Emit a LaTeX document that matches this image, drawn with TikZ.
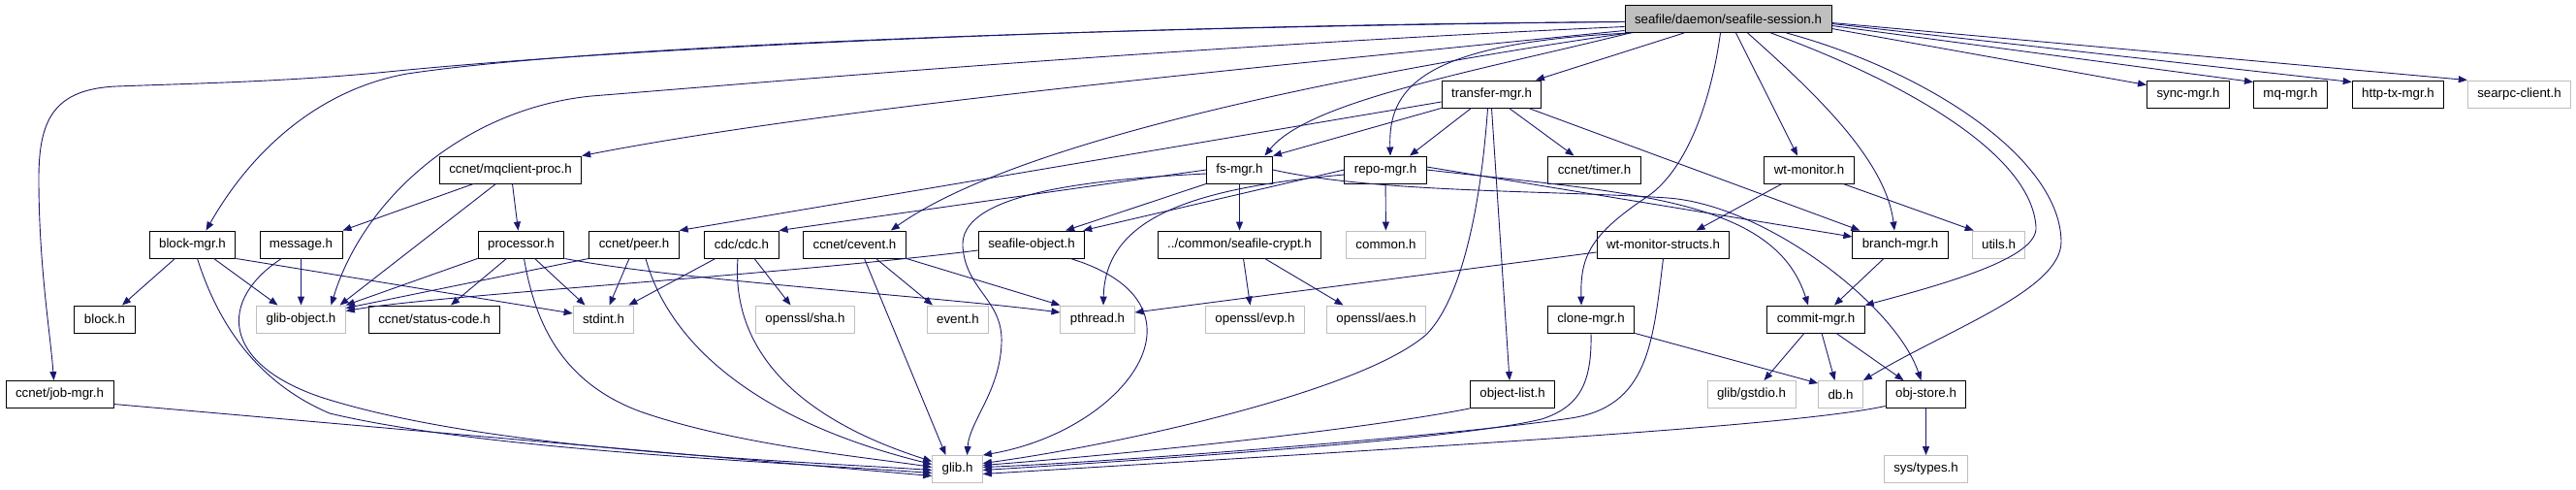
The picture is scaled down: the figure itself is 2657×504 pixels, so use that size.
\documentclass[tikz,border=0pt]{standalone}
\usepackage{fontspec}
\setmainfont{Liberation Sans}
\usepackage{xcolor}
\usepackage{tikz}
\usetikzlibrary{arrows.meta}

\definecolor{edgeblue}{HTML}{191970}
\definecolor{extgray}{HTML}{BFBFBF}

\begin{document}
\begin{tikzpicture}[
  x=1pt, y=1pt,
  file/.style={rectangle, draw=black, fill=white, line width=0.9pt, minimum height=28pt, inner xsep=10pt, inner ysep=0pt, font=\fontsize{13.3}{16}\selectfont},
  extfile/.style={file, draw=extgray},
  rootfile/.style={file, fill=extgray},
  arrow/.style={-{Triangle[length=9pt,width=7pt]}, draw=edgeblue, line width=0.9pt}
]
\useasboundingbox (0,0) rectangle (2657,504);

\node[rootfile] (root) at (1782.5,484.5) {seafile/daemon/seafile-session.h};

\node[file] (transfer) at (1538.5,407) {transfer-mgr.h};
\node[file] (syncmgr) at (2257,407) {sync-mgr.h};
\node[file] (mqmgr) at (2362.5,407) {mq-mgr.h};
\node[file] (httptx) at (2473.5,407) {http-tx-mgr.h};
\node[extfile] (searpc) at (2598.5,407) {searpc-client.h};

\node[file] (mqclient) at (526.5,329) {ccnet/mqclient-proc.h};
\node[file] (fsmgr) at (1278.5,329) {fs-mgr.h};
\node[file] (repomgr) at (1429,329) {repo-mgr.h};
\node[file] (timer) at (1644.5,329) {ccnet/timer.h};
\node[file] (wtmon) at (1866,329) {wt-monitor.h};

\node[file] (blockmgr) at (198.5,252) {block-mgr.h};
\node[file] (message) at (310.5,252) {message.h};
\node[file] (processor) at (537.5,252) {processor.h};
\node[file] (peer) at (654,252) {ccnet/peer.h};
\node[file] (cdc) at (765,252) {cdc/cdc.h};
\node[file] (cevent) at (881.5,252) {ccnet/cevent.h};
\node[file] (seafobj) at (1064,252) {seafile-object.h};
\node[file] (crypt) at (1278.5,252) {../common/seafile-crypt.h};
\node[extfile] (common) at (1429.5,252) {common.h};
\node[file] (wtstructs) at (1715.5,252) {wt-monitor-structs.h};
\node[file] (branch) at (1960,252) {branch-mgr.h};
\node[extfile] (utils) at (2061.5,252) {utils.h};

\node[file] (blockh) at (108,175) {block.h};
\node[extfile] (globj) at (310.5,175) {glib-object.h};
\node[file] (status) at (448,175) {ccnet/status-code.h};
\node[extfile] (stdint) at (622.5,175) {stdint.h};
\node[extfile] (sha) at (830.5,175) {openssl/sha.h};
\node[extfile] (event) at (988,175) {event.h};
\node[extfile] (pthread) at (1132,175) {pthread.h};
\node[extfile] (evp) at (1294.5,175) {openssl/evp.h};
\node[extfile] (aes) at (1419.5,175) {openssl/aes.h};
\node[file] (clonemgr) at (1641,175) {clone-mgr.h};
\node[file] (commit) at (1873,175) {commit-mgr.h};

\node[file] (jobmgr) at (61.5,97.5) {ccnet/job-mgr.h};
\node[file] (objlist) at (1560,97.5) {object-list.h};
\node[extfile] (gstdio) at (1806.5,97.5) {glib/gstdio.h};
\node[extfile] (db) at (1898.5,97.5) {db.h};
\node[file] (objstore) at (1986.5,97.5) {obj-store.h};

\node[extfile] (glib) at (987.5,20.5) {glib.h};
\node[extfile] (systypes) at (1986.5,20.5) {sys/types.h};

\draw[arrow] ([yshift=-3pt]root.west) .. controls (1150,478) and (650,455) .. (400,430) .. controls (300,420) and (200,418) .. (120,415) .. controls (55,412) and (40,380) .. (40,320) .. controls (40,230) and (52,160) .. ([xshift=-6pt]jobmgr.north);
\draw[arrow] ([yshift=-3pt]root.west) .. controls (1150,476) and (620,458) .. (420,428) .. controls (330,412) and (260,350) .. ([xshift=14pt]blockmgr.north);
\draw[arrow] ([yshift=-8pt]root.west) .. controls (1200,455) and (800,420) .. (610,405) .. controls (480,392) and (375,300) .. ([xshift=31pt]globj.north);
\draw[arrow] ([yshift=-12pt]root.west) .. controls (1250,430) and (850,392) .. (mqclient.north east);
\draw[arrow] ([xshift=4pt]root.south west) .. controls (1400,430) and (1050,360) .. ([xshift=-16pt]cevent.north east);
\draw[arrow] ([xshift=6pt]root.south west) .. controls (1520,430) and (1350,400) .. ([xshift=26pt]fsmgr.north);
\draw[arrow] ([xshift=8pt]root.south west) .. controls (1460,460) and (1432,410) .. ([xshift=5pt]repomgr.north);
\draw[arrow] (root) -- (transfer);
\draw[arrow] ([xshift=-8pt]root.south) .. controls (1765,400) and (1740,330) .. (1700,302) .. controls (1640,262) and (1630,240) .. ([xshift=-10pt]clonemgr.north);
\draw[arrow] ([xshift=8pt]root.south) -- ([xshift=-12pt]wtmon.north);
\draw[arrow] ([xshift=20pt]root.south) .. controls (1870,410) and (1945,340) .. ([xshift=-6pt]branch.north);
\draw[arrow] ([xshift=44pt]root.south) .. controls (1950,425) and (2095,350) .. (2100,270) .. controls (2102,240) and (2020,215) .. (commit.north east);
\draw[arrow] ([xshift=60pt]root.south) .. controls (1990,430) and (2125,340) .. (2126,255) .. controls (2126,205) and (2010,165) .. (db.north east);
\draw[arrow] ([yshift=-10pt]root.east) -- ([yshift=-5pt]syncmgr.north west);
\draw[arrow] ([yshift=-7pt]root.east) -- ([yshift=-2pt]mqmgr.north west);
\draw[arrow] ([yshift=-5pt]root.east) -- ([yshift=-2pt]httptx.north west);
\draw[arrow] ([yshift=-4pt]root.east) -- (searpc.north west);

\draw[arrow] (transfer.south west) -- (fsmgr.north east);
\draw[arrow] ([xshift=-21pt]transfer.south) -- ([xshift=25pt]repomgr.north);
\draw[arrow] ([xshift=18pt]transfer.south) -- ([xshift=-21pt]timer.north);
\draw[arrow] (transfer.south) -- ([xshift=-3pt]objlist.north);
\draw[arrow] ([xshift=-4pt]transfer.south) .. controls (1528,300) and (1510,200) .. (1472,160) .. controls (1405,100) and (1150,45) .. ([yshift=6pt]glib.east);
\draw[arrow] ([yshift=-8pt]transfer.west) -- (peer.north east);
\draw[arrow] ([xshift=38pt]transfer.south) -- ([xshift=8pt]branch.north west);

\draw[arrow] (fsmgr.west) -- (cdc.north east);
\draw[arrow] ([yshift=-4pt]fsmgr.west) .. controls (1100,318) and (990,300) .. (993,250) .. controls (996,205) and (1035,195) .. (1033,150) .. controls (1031,100) and (1000,70) .. ([xshift=10pt]glib.north);
\draw[arrow] (fsmgr.south west) -- ([xshift=-20pt]seafobj.north east);
\draw[arrow] (fsmgr) -- (crypt);
\draw[arrow] (fsmgr.east) .. controls (1420,305) and (1600,308) .. (1720,300) .. controls (1820,293) and (1955,190) .. ([xshift=-5pt]objstore.north);

\draw[arrow] (repomgr.west) -- ([xshift=-2pt]seafobj.north east);
\draw[arrow] ([yshift=-5pt]repomgr.west) .. controls (1230,310) and (1140,280) .. ([xshift=6pt]pthread.north);
\draw[arrow] (repomgr) -- (common);
\draw[arrow] ([yshift=3pt]repomgr.east) -- ([yshift=8pt]branch.west);
\draw[arrow] (repomgr.east) .. controls (1680,305) and (1830,300) .. ([xshift=-8pt]commit.north);

\draw[arrow] ([xshift=-28pt]wtmon.south) -- ([xshift=34pt]wtstructs.north);
\draw[arrow] ([xshift=35pt]wtmon.south) -- ([xshift=2pt]utils.north west);

\draw[arrow] ([xshift=-18pt]blockmgr.south) -- ([xshift=18pt]blockh.north);
\draw[arrow] ([xshift=22pt]blockmgr.south) -- ([xshift=-24pt]globj.north);
\draw[arrow] (blockmgr.south east) -- ([yshift=6pt]stdint.west);
\draw[arrow] ([xshift=5pt]blockmgr.south) .. controls (225,170) and (265,110) .. (340,78) .. controls (500,40) and (800,28) .. ([yshift=-4pt]glib.west);

\draw[arrow] (message) -- (globj);
\draw[arrow] ([xshift=-20pt]message.south) .. controls (225,195) and (228,130) .. (330,95) .. controls (500,40) and (800,30) .. ([yshift=-1pt]glib.west);

\draw[arrow] ([xshift=-38pt]mqclient.south) -- (message.north east);
\draw[arrow] ([xshift=2pt]mqclient.south) -- ([xshift=-3pt]processor.north);
\draw[arrow] ([xshift=-15pt]mqclient.south) -- ([xshift=40pt]globj.north);

\draw[arrow] (processor.south west) -- (globj.north east);
\draw[arrow] ([xshift=-15pt]processor.south) -- ([xshift=17pt]status.north);
\draw[arrow] ([xshift=14pt]processor.south) -- ([xshift=-19pt]stdint.north);
\draw[arrow] ([xshift=3pt]processor.south) .. controls (552,170) and (580,110) .. (660,80) .. controls (760,45) and (900,32) .. ([yshift=2pt]glib.west);
\draw[arrow] (processor.south east) .. controls (700,215) and (950,200) .. ([yshift=7pt]pthread.west);

\draw[arrow] (peer.south west) -- ([yshift=-3pt]globj.north east);
\draw[arrow] ([xshift=-5pt]peer.south) -- ([xshift=6pt]stdint.north);
\draw[arrow] ([xshift=12pt]peer.south) .. controls (690,150) and (780,70) .. ([yshift=5pt]glib.west);

\draw[arrow] ([xshift=-27pt]cdc.south) -- ([xshift=-6pt]stdint.north east);
\draw[arrow] ([xshift=13pt]cdc.south) -- ([xshift=-15pt]sha.north);
\draw[arrow] ([xshift=-4pt]cdc.south) .. controls (755,160) and (800,80) .. ([yshift=8pt]glib.west);

\draw[arrow] ([xshift=22pt]cevent.south) -- ([xshift=-26pt]event.north);
\draw[arrow] (cevent.south east) -- (pthread.north west);
\draw[arrow] ([xshift=10pt]cevent.south) -- ([xshift=-12pt]glib.north);

\draw[arrow] ([yshift=-6pt]seafobj.west) .. controls (800,220) and (450,200) .. ([yshift=-6pt]globj.north east);
\draw[arrow] ([xshift=40pt]seafobj.south) .. controls (1260,190) and (1160,60) .. (glib.north east);

\draw[arrow] ([xshift=4pt]crypt.south) -- ([xshift=-5pt]evp.north);
\draw[arrow] ([xshift=26pt]crypt.south) -- ([xshift=-34pt]aes.north);

\draw[arrow] ([yshift=-8pt]wtstructs.west) -- ([yshift=7pt]pthread.east);
\draw[arrow] (wtstructs.south) .. controls (1705,150) and (1700,85) .. (1620,73) .. controls (1500,55) and (1150,28) .. ([yshift=2pt]glib.east);

\draw[arrow] ([xshift=-17pt]branch.south) -- ([xshift=19pt]commit.north);

\draw[arrow] (clonemgr.south east) -- ([yshift=-3pt]db.north west);
\draw[arrow] (clonemgr.south) .. controls (1642,110) and (1630,85) .. (1590,72) .. controls (1500,50) and (1150,28) .. ([yshift=-1pt]glib.east);

\draw[arrow] ([xshift=-12pt]commit.south) -- ([xshift=13pt]gstdio.north);
\draw[arrow] ([xshift=6pt]commit.south) -- ([xshift=-6pt]db.north);
\draw[arrow] ([xshift=21pt]commit.south) -- ([xshift=-23pt]objstore.north);

\draw[arrow] (objlist.south west) .. controls (1400,60) and (1150,35) .. ([yshift=4pt]glib.east);

\draw[arrow] (objstore) -- (systypes);
\draw[arrow] ([yshift=-12pt]objstore.west) .. controls (1850,65) and (1500,45) .. ([yshift=-5pt]glib.east);

\draw[arrow] ([yshift=-10pt]jobmgr.east) -- ([yshift=-7pt]glib.west);

\end{tikzpicture}
\end{document}
